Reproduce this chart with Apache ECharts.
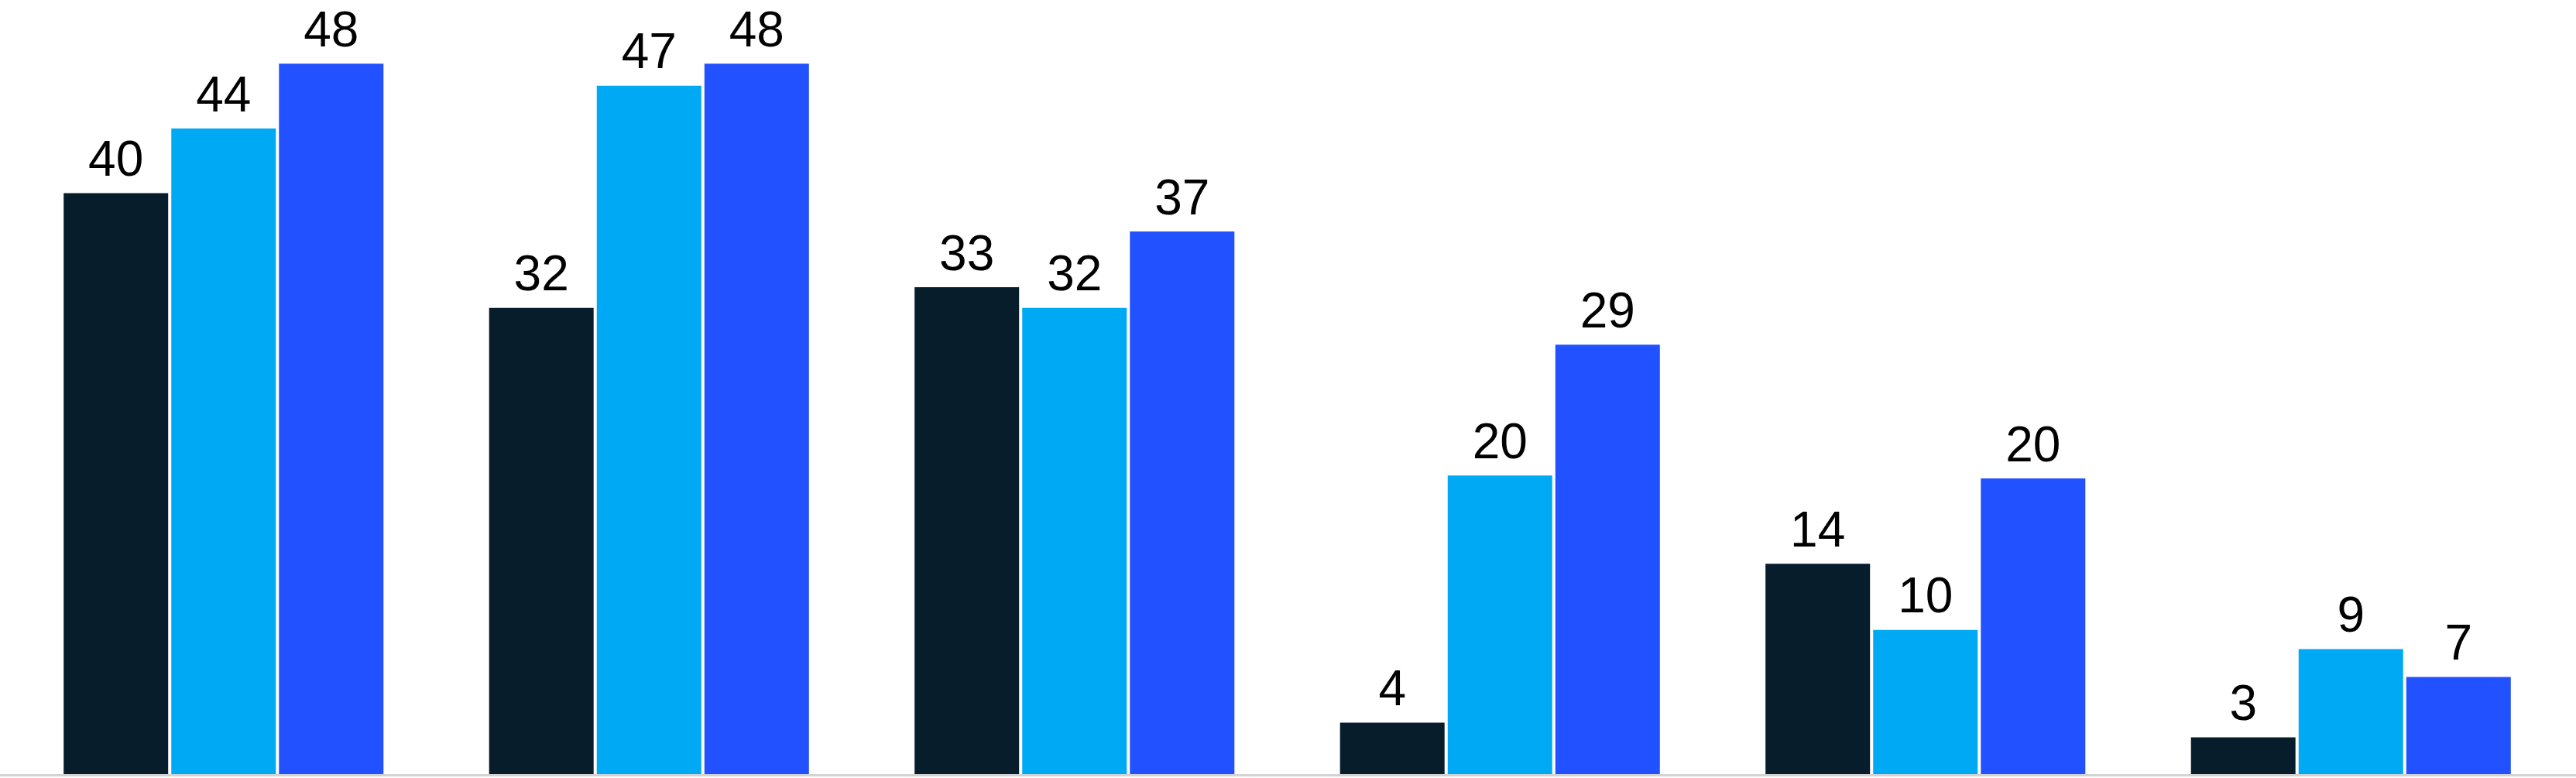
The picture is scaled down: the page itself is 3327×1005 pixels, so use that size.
<!DOCTYPE html>
<html>
<head>
<meta charset="utf-8">
<script src="https://cdn.jsdelivr.net/npm/echarts@6/dist/echarts.min.js"></script>
<style>
html,body{margin:0;padding:0;background:#fff;}
#chart{width:3327px;height:1005px;}
</style>
</head>
<body>
<div id="chart"></div>
<script>
const categories = ['A', 'B', 'C', 'D', 'E', 'F'];
const series1 = [39.5, 31.7, 33.1, 3.5, 14.3, 2.5];
const series2 = [43.9, 46.8, 31.7, 20.3, 9.8, 8.5];
const series3 = [48.3, 48.3, 36.9, 29.2, 20.1, 6.6];
const colors = ['#071D2C', '#00A9F4', '#2251FF'];

const chart = echarts.init(document.getElementById('chart'), null, {renderer: 'canvas'});
const label = {
  show: true,
  position: 'top',
  distance: 8,
  color: '#000',
  fontFamily: 'Liberation Sans',
  fontWeight: 'normal',
  fontSize: 64,
  formatter: p => String(Math.round(p.value))
};
function bar(name, data, color) {
  return {
    name, type: 'bar', data,
    barWidth: 135, barGap: '3%',
    itemStyle: {color},
    label,
    z: 3,
    silent: true
  };
}
chart.setOption({
  animation: false,
  backgroundColor: '#fff',
  grid: [
    {left: 14, right: 16, top: 50, bottom: 5},
    {left: 0, right: 0, top: 50, bottom: 3.5}
  ],
  xAxis: [
    {type: 'category', data: categories, gridIndex: 0,
     axisLine: {show: false}, axisTick: {show: false}, axisLabel: {show: false}},
    {type: 'category', data: categories, gridIndex: 1,
     axisLine: {show: true, lineStyle: {color: '#D3D3D3', width: 3}},
     axisTick: {show: false}, axisLabel: {show: false}}
  ],
  yAxis: [
    {type: 'value', min: 0, max: 50, gridIndex: 0, show: false, splitLine: {show: false}},
    {type: 'value', min: 0, max: 50, gridIndex: 1, show: false, splitLine: {show: false}}
  ],
  series: [
    bar('Series 1', series1, colors[0]),
    bar('Series 2', series2, colors[1]),
    bar('Series 3', series3, colors[2])
  ]
});
</script>
</body>
</html>
